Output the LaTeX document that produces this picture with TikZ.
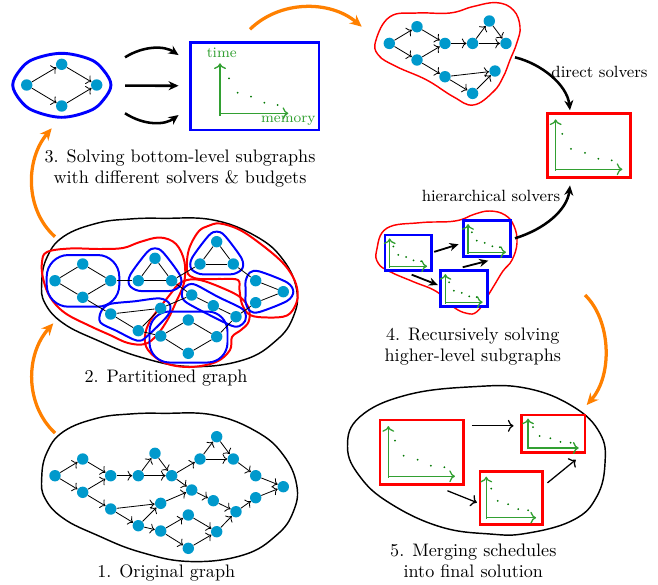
\documentclass[tikz,border=0pt]{standalone}
\usetikzlibrary{arrows.meta,calc}
\definecolor{nodeblue}{RGB}{0,153,204}
\definecolor{axgreen}{RGB}{50,160,50}
\definecolor{dotgreen}{RGB}{0,120,0}
\definecolor{orangeA}{RGB}{255,128,0}
\newcommand\schedbox[6]{%
  \node[sbox,draw=#6,minimum width={(#4-#2)*0.5525pt},minimum height={(#5-#3)*0.5525pt}] (#1) at ({(#2+#4)/2},{(#3+#5)/2}) {};
  \pgfmathsetmacro\sbx{#2+0.1*(#4-#2)}%
  \pgfmathsetmacro\sby{#5-0.125*(#5-#3)}%
  \pgfmathsetmacro\sbw{0.8*(#4-#2)}%
  \pgfmathsetmacro\sbh{0.78*(#5-#3)}%
  \draw[axisline] (\sbx,\sby+1.5) -- (\sbx,\sby-\sbh);
  \draw[axisline] (\sbx,\sby) -- (\sbx+\sbw,\sby);
  \foreach \da/\db in {0.1/0.71,0.23/0.41,0.44/0.33,0.64/0.21,0.84/0.18}
    \fill[dotgreen] (\sbx+\da*\sbw,\sby-\db*\sbh) circle[radius=1];
}
\begin{document}
\begin{tikzpicture}[x=0.5525pt,y=-0.5525pt,
  gnode/.style={circle,fill=nodeblue,minimum size=6.3pt,inner sep=0pt},
  gedge/.style={line width=0.45pt},
  darr/.style={line width=0.45pt,->},
  sbox/.style={rectangle,fill=white,line width=1.6pt,inner sep=0pt},
  axisline/.style={draw=axgreen,line width=0.7pt,->},
  bhull/.style={draw=blue,line width=1.1pt},
  rhull/.style={draw=red,line width=1.1pt},
  thinred/.style={draw=red,line width=0.8pt},
  egg/.style={draw=black,line width=0.8pt},
  orarrow/.style={draw=orangeA,line width=1.8pt,-{Stealth[length=6.5pt,width=6pt]}},
  blkarrow/.style={line width=1.4pt,-{Stealth[length=5.5pt,width=5pt]}},
  harrow/.style={line width=1pt,-{Stealth[length=5pt,width=4.5pt]}},
  marrow/.style={line width=0.7pt,->},
  caption/.style={align=center,inner sep=0pt},
  small/.style={font=\small,inner sep=0pt}
]
\useasboundingbox (0,0) rectangle (658,584);

% ---------- eggs (graph 1 and graph 2) ----------
\foreach \dy in {0,195}{
\begin{scope}[shift={(0,\dy)}]
\draw[egg] plot[smooth cycle,tension=0.7] coordinates {(46.7,258) (63.3,236.7) (96.7,223.3) (130,219) (163.3,218.3) (213.3,220) (256.7,236.7) (283.3,260) (296.7,290) (293.3,316.7) (276.7,340) (243.3,360) (190,366.5) (140,357) (96.7,340) (63.3,323.3) (45,303.3) (41.7,283)};
\end{scope}
}

% ---------- red partitions ----------
\draw[rhull] plot[smooth cycle,tension=0.6] coordinates {(47,252) (70,248.5) (100,249) (123,248) (140,242) (160,237.5) (176,244) (184.5,262) (184,283) (176,302) (168,319) (157,335) (145,344) (128,343) (110,335) (90,326) (65,313) (50,297) (43,278) (42,262)};
\draw[rhull] plot[smooth cycle,tension=0.6] coordinates {(187,270) (187.5,256) (191,244) (199,231) (208,226) (220,223.5) (240,230) (262,245) (282,262) (293,277) (297.5,291) (296,304) (287,315.5) (268,317.5) (250,315) (242,304) (239.5,290) (238,280) (222,279) (200,279) (190,276)};
\draw[rhull] plot[smooth cycle,tension=0.6] coordinates {(172,292) (178,284.5) (187,280) (200,280) (220,287) (240,297) (249,309) (248.5,322) (241,330) (232,337) (230,350) (216,362) (190,367) (165,363) (148,350) (145,336) (150,321) (161,306)};

% ---------- blue partitions ----------
\draw[bhull,rounded corners=12pt] (46.7,255) rectangle (119.3,306.7);
\draw[bhull,rounded corners=11pt] (149.5,311.5) rectangle (227.5,362.5);
\draw[bhull] plot[smooth cycle,tension=0.5] coordinates {(147,252.3) (155,248.3) (163,252.3) (179.7,274.7) (180.6,285.2) (171.7,290.7) (155,291) (138.3,290.7) (129.4,285.2) (130.3,274.7)};
\draw[bhull] plot[smooth cycle,tension=0.5] coordinates {(208.7,235.6) (216.7,231.6) (224.7,235.6) (241.4,258) (242.3,268.5) (233.4,274) (216.7,274.3) (200,274) (191.1,268.5) (192,258)};
\draw[bhull] plot[smooth cycle,tension=0.5] coordinates {(245.7,280.7) (250.1,272.4) (259.4,271.4) (287,282.4) (293.3,291.7) (287,301) (259.4,312) (250.1,311) (245.7,302.7) (245.7,291.7)};
\draw[bhull] plot[smooth cycle,tension=0.5] coordinates {(100.5,322.6) (100.9,311.9) (109.6,304.1) (134.6,301.3) (159.6,298.4) (169.7,304) (167.8,315.4) (145.4,337.8) (139.5,340.6) (133.1,339.3) (116.8,331)};
\draw[bhull] plot[smooth cycle,tension=0.5] coordinates {(182.2,297.1) (182.8,289.4) (188.6,284.5) (196.3,285.1) (217.9,296.8) (240.6,307.8) (245.5,313.6) (244.9,321.3) (239.1,326.2) (231.4,325.6) (208.7,314.6) (187.1,302.9)};

% ---------- graph nodes ----------
\foreach \i/\x/\y in {1/55/475.7,2/82.7/459,3/82.7/492.3,4/110.7/475.7,5/138.3/475.7,6/155/453.3,7/171.7/475.7,8/200/459,9/216.7/436.7,10/233.3/459,11/255.7/475.7,12/283.3/486.7,13/191.7/490,14/213.3/500.7,15/236/511.7,16/255.7/497.7,17/110.7/509,18/160.7/503.3,19/138.3/525.7,20/160.7/531,21/188.3/515,22/216.7/531.7,23/188.3/548.3}{
  \node[gnode] (a\i) at (\x,\y) {};
  \node[gnode] (b\i) at (\x,\y-195) {};
}
\foreach \s/\t in {1/2,1/3,2/4,3/4,3/17,4/5,5/6,5/7,6/7,7/8,8/9,8/10,9/10,10/11,11/12,7/13,13/14,14/15,15/16,16/12,17/18,17/19,19/18,18/13,19/20,20/21,20/23,21/22,23/22,22/15}{
  \draw[darr] (a\s) -- (a\t);
  \draw[gedge] (b\s) -- (b\t);
}

% ---------- top-right subgraph ----------
\draw[thinred] plot[smooth cycle,tension=0.7] coordinates {(376,40) (390,16.7) (416.7,13) (450,13) (473.3,6.5) (496.7,2.7) (513.3,10) (520,26.7) (516.7,43.3) (510,60) (503.3,76.7) (493.3,91.7) (473.3,105) (453.3,96.7) (426.7,80) (396.7,66.7) (378.3,55)};
\foreach \i/\x/\y in {1/55/475.7,2/82.7/459,3/82.7/492.3,4/110.7/475.7,5/138.3/475.7,6/155/453.3,7/171.7/475.7,17/110.7/509,18/160.7/503.3,19/138.3/525.7}{
  \node[gnode] (c\i) at (\x+334.3,\y-432.3) {};
}
\foreach \s/\t in {1/2,1/3,2/4,3/4,3/17,4/5,5/6,5/7,6/7,17/18,17/19,19/18}{
  \draw[darr] (c\s) -- (c\t);
}

% ---------- top-left subgraph ----------
\draw[draw=blue,line width=1.6pt] plot[smooth cycle,tension=0.6] coordinates {(12.7,85) (20,70) (33.3,59.3) (61.7,53.3) (90,59.3) (103.3,70) (111,85) (103.3,100) (90,110.7) (61.7,117.3) (33.3,110.7) (20,100)};
\node[gnode] (d1) at (26.7,85) {};
\node[gnode] (d2) at (61.7,64.3) {};
\node[gnode] (d3) at (61.7,106) {};
\node[gnode] (d4) at (96.7,85) {};
\foreach \s/\t in {1/2,1/3,2/4,3/4}{\draw[darr] (d\s) -- (d\t);}

% ---------- big blue schedule box ----------
\node[sbox,draw=blue,minimum width={128.3*0.5525pt},minimum height={87.3*0.5525pt}] (BB) at (254.85,86.35) {};
\draw[axisline] (220,115.5) -- (220,63.3);
\draw[axisline] (220,113.3) -- (288.3,113.3);
\foreach \px/\py in {229/78.3,237.7/92.7,251/96.7,264.3/102.7,277.7/105}
  \fill[dotgreen] (\px,\py) circle[radius=1];
\node[font=\footnotesize,text=axgreen,inner sep=0pt] (tl) at (221.7,52.7) {time};
\node[font=\footnotesize,text=axgreen,inner sep=0pt] (ml) at (288.3,120.7) {memory};

\coordinate (s1) at (125,57.3);
\coordinate (s2) at (125,85.7);
\coordinate (s3) at (125,113.3);
\draw[blkarrow] (s1) .. controls (145,45) and (165,46) .. ($(BB.west)+(-10.7,-31.3)$);
\draw[blkarrow] (s2) -- ($(BB.west)+(-10.7,-0.6)$);
\draw[blkarrow] (s3) .. controls (145,126) and (165,125) .. ($(BB.west)+(-10.7,28.7)$);

% ---------- direct solver result ----------
\schedbox{RD}{547.3}{113.3}{630.7}{177.3}{red}

% ---------- hierarchical ----------
\draw[thinred] plot[smooth cycle,tension=0.7] coordinates {(376.7,250) (386.7,228.3) (420,222.7) (455,221) (475,214) (490,211) (505,215) (514,226) (517,243) (512,260) (503,271) (495,284) (487,297) (477,311.7) (466.7,313.3) (453,306.7) (436.7,291.7) (413.3,281.7) (390,271.7) (378.3,263.3)};
\schedbox{hA}{385}{235}{431.7}{270.7}{blue}
\schedbox{hB}{463.3}{220.7}{510.7}{256.7}{blue}
\schedbox{hC}{440.7}{270.7}{487.3}{306.7}{blue}
\draw[harrow] ($(hA.east)+(1,-1)$) -- ($(hB.west)+(-3.3,5.6)$);
\draw[harrow] ($(hA.south)+(3.3,2.5)$) -- ($(hC.west)+(-1.4,-3.7)$);
\draw[harrow] ($(hC.north)+(-1.3,-2)$) -- ($(hB.south)+(1.3,2.5)$);

% ---------- final merge ----------
\draw[egg] plot[smooth cycle,tension=0.7] coordinates {(347.5,446.7) (360,416.7) (406.7,395) (473.3,386.7) (526.7,388.3) (573.3,406.7) (600,433.3) (605,463.3) (596.7,496.7) (573.3,520) (526.7,533.3) (490,534) (440,526.7) (390,503.3) (360,476.7)};
\schedbox{m1}{380}{420}{463.3}{484.3}{red}
\schedbox{m2}{521.7}{415}{585}{452.7}{red}
\schedbox{m3}{480}{471.7}{542.3}{524.3}{red}
\draw[marrow] ($(m1.north east)+(7,7.3)$) -- ($(m2.north west)+(-6.7,12.3)$);
\draw[marrow] ($(m1.south east)+(-17.3,5)$) -- ($(m3.north west)+(-1.7,32.3)$);
\draw[marrow] ($(m3.north east)+(3.7,12.6)$) -- ($(m2.south east)+(-10.7,5.6)$);

% ---------- solver arrows ----------
\coordinate (ts) at (515,57.3);
\coordinate (hs) at (515,238.3);
\draw[blkarrow] (ts) .. controls (542,64) and (567,85) .. ($(RD.north)+(-19,-1.6)$);
\draw[blkarrow] (hs) .. controls (545,229) and (567,210) .. ($(RD.south)+(-19,6.7)$);
\node[small] (lds) at (599.5,71.7) {direct solvers};
\node[small] (lhs) at (491,195.7) {hierarchical solvers};

% ---------- orange process arrows ----------
\coordinate (o1a) at (55,433);
\coordinate (o1b) at (53.3,323.3);
\coordinate (o2a) at (55,236.7);
\coordinate (o2b) at (51.7,128.3);
\coordinate (o3a) at (250,29.3);
\coordinate (o3b) at (361.7,26.7);
\coordinate (o4a) at (585,295);
\coordinate (o4b) at (586.7,405);
\draw[orarrow] (o1a) .. controls (25,405) and (25,355) .. (o1b);
\draw[orarrow] (o2a) .. controls (25,210) and (25,160) .. (o2b);
\draw[orarrow] (o3a) .. controls (280,0) and (330,0) .. (o3b);
\draw[orarrow] (o4a) .. controls (611,320) and (613,375) .. (o4b);

% ---------- captions ----------
\node[caption] (c3) at (180,168.5) {3. Solving bottom-level subgraphs\\with different solvers \& budgets};
\node[caption] (c2) at (166,378) {2. Partitioned graph};
\node[caption] (c1) at (166.2,573.3) {1. Original graph};
\node[caption] (c4) at (472.8,346.7) {4. Recursively solving\\higher-level subgraphs};
\node[caption] (c5) at (473.3,560.8) {5. Merging schedules\\into final solution};
\end{tikzpicture}
\end{document}
